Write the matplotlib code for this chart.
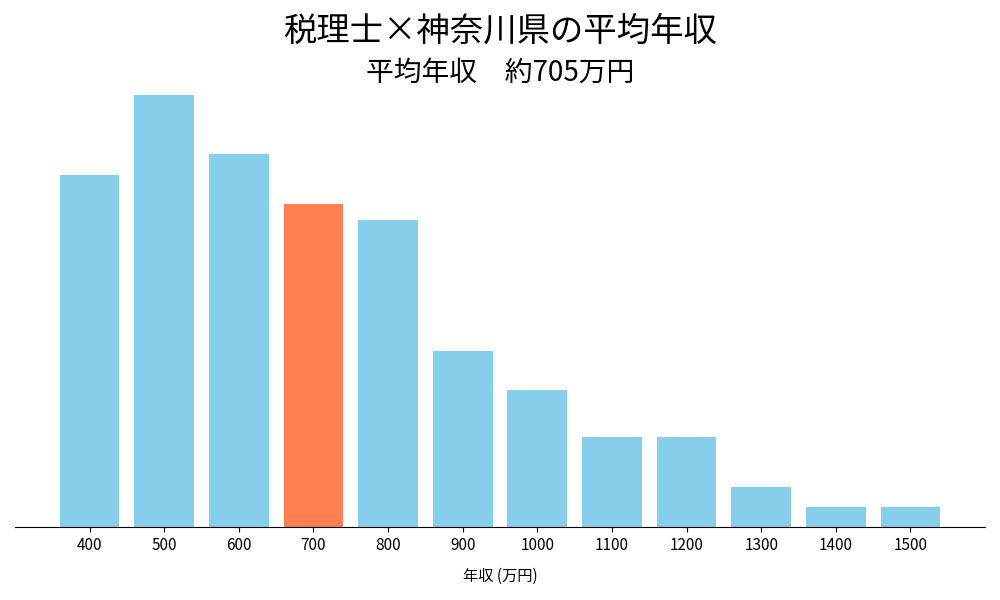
import matplotlib.pyplot as plt

plt.rcParams['font.family'] = ['Noto Sans CJK JP', 'DejaVu Sans']

categories = ['400', '500', '600', '700', '800', '900', '1000', '1100', '1200', '1300', '1400', '1500']
values = [352, 432, 373, 323, 307, 176, 137, 90, 90, 40, 20, 20]
highlight = '700'

colors = ['#FF7F50' if c == highlight else '#87CEEB' for c in categories]

fig = plt.figure(figsize=(10, 6), dpi=100)
ax = fig.add_axes([0.015, 0.1217, 0.97, 0.72])
ax.bar(range(len(categories)), values, width=0.8, color=colors)
ax.set_xticks(range(len(categories)))
ax.set_xticklabels(categories, fontsize=11)
ax.set_xlim(-1, 12)
ax.set_ylim(0, 432)
ax.set_yticks([])
for s in ['top', 'right', 'left']:
    ax.spines[s].set_visible(False)
ax.set_xlabel('年収 (万円)', fontsize=11, labelpad=10)

fig.text(0.5, 0.948, '税理士×神奈川県の平均年収', ha='center', va='center', fontsize=24)
fig.text(0.5, 0.878, '平均年収\u3000約705万円', ha='center', va='center', fontsize=20)

fig.savefig('out.png')
